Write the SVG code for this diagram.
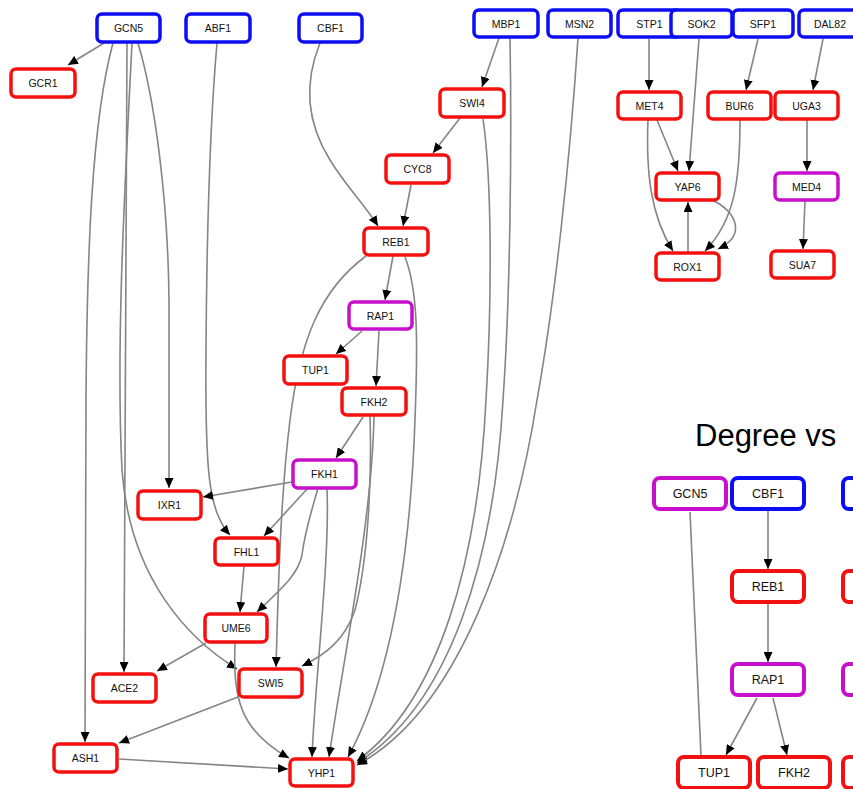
<svg xmlns="http://www.w3.org/2000/svg" width="853" height="789" viewBox="0 0 853 789">
  <style>
    .edge { fill: none; stroke: #858585; stroke-width: 1.6; }
    .arr { marker-end: url(#arrow); }
    .node rect { fill: #ffffff; stroke-width: 3.5; }
    .big rect { stroke-width: 4; }
    .tf rect { stroke: #0c0cf5; }
    .tg rect { stroke: #f51010; }
    .both rect { stroke: #c810cc; }
    .node text { font-family: "Liberation Sans", Arial, sans-serif; font-size: 10.5px; fill: #111111; text-anchor: middle; }
    .big text { font-size: 12.5px; }
    .title { font-family: "Liberation Sans", Arial, sans-serif; font-size: 31px; fill: #000000; }
  </style>
  <defs>
    <marker id="arrow" markerUnits="userSpaceOnUse" markerWidth="11" markerHeight="9" refX="10" refY="4.5" orient="auto">
      <path d="M0,0 L10,4.5 L0,9 z" fill="#000000"/>
    </marker>
  </defs>

  <!-- connectors -->
  <g id="edges">
    <path class="edge arr" d="M104,43 L68,65"/>
    <path class="edge arr" d="M113,43 C92,120 87,250 86,400 L85,742"/>
    <path class="edge arr" d="M127,43 C126,200 124,400 124,672"/>
    <path class="edge arr" d="M132,43 C124,200 116,350 122,470 C130,580 190,640 237,669"/>
    <path class="edge arr" d="M138,43 C155,100 168,200 169,300 L169,488"/>
    <path class="edge arr" d="M217,43 C212,100 207,200 206,350 C205,470 208,510 230,535"/>
    <path class="edge arr" d="M320,43 C305,80 305,120 330,160 C345,185 365,205 378,226"/>
    <path class="edge arr" d="M411,185 L403,226"/>
    <path class="edge arr" d="M460,118 L433,153"/>
    <path class="edge arr" d="M499,38 L482,87"/>
    <path class="edge arr" d="M393,256 L385,300"/>
    <path class="edge arr" d="M362,331 L336,354"/>
    <path class="edge arr" d="M379,331 L376,386"/>
    <path class="edge arr" d="M363,417 L336,458"/>
    <path class="edge arr" d="M366,256 C320,290 300,340 290,420 C280,500 278,600 276,667"/>
    <path class="edge arr" d="M370,416 C372,480 368,560 355,610 C345,640 325,655 302,666"/>
    <path class="edge arr" d="M374,416 C372,520 345,650 329,757"/>
    <path class="edge arr" d="M405,257 C418,290 418,340 415,420 C410,560 390,680 348,757"/>
    <path class="edge arr" d="M292,482 L203,497"/>
    <path class="edge arr" d="M308,488 L264,536"/>
    <path class="edge arr" d="M318,488 C312,510 305,530 302,555 C298,575 280,590 257,612"/>
    <path class="edge arr" d="M327,489 C330,560 315,680 312,757"/>
    <path class="edge arr" d="M244,566 L240,612"/>
    <path class="edge arr" d="M206,643 L157,671"/>
    <path class="edge arr" d="M235,643 C233,700 240,730 289,758"/>
    <path class="edge arr" d="M238,697 L119,743"/>
    <path class="edge arr" d="M119,759 L288,769"/>
    <path class="edge arr" d="M483,119 C492,180 492,300 486,400 C478,560 440,700 357,761"/>
    <path class="edge arr" d="M510,38 C512,150 510,300 503,400 C494,560 450,705 357,763"/>
    <path class="edge arr" d="M578,38 C570,160 555,300 537,400 C515,540 460,710 357,765"/>

    <path class="edge arr" d="M649,39 L649,90"/>
    <path class="edge arr" d="M699,39 L689,171"/>
    <path class="edge arr" d="M758,39 L746,90"/>
    <path class="edge arr" d="M823,39 L813,90"/>
    <path class="edge arr" d="M657,120 L678,171"/>
    <path class="edge arr" d="M648,120 C646,170 650,215 673,251"/>
    <path class="edge arr" d="M740,120 C740,180 735,220 705,251"/>
    <path class="edge arr" d="M712,200 C735,210 748,235 718,249"/>
    <path class="edge arr" d="M688,252 L688,202"/>
    <path class="edge arr" d="M807,120 L807,171"/>
    <path class="edge arr" d="M805,201 L803,249"/>

    <path class="edge arr" d="M768,511 L768,569"/>
    <path class="edge arr" d="M768,604 L768,662"/>
    <path class="edge arr" d="M757,698 L726,755"/>
    <path class="edge arr" d="M773,698 L787,755"/>
    <path class="edge" d="M690,512 L701,756"/>
  </g>

  <!-- left graph -->
  <g id="n-GCN5" class="node tf"><rect x="97" y="14" width="63" height="28" rx="5"/><text x="128.5" y="32">GCN5</text></g>
  <g id="n-ABF1" class="node tf"><rect x="186" y="14" width="64" height="28" rx="5"/><text x="218" y="32">ABF1</text></g>
  <g id="n-CBF1" class="node tf"><rect x="299" y="14" width="63" height="28" rx="5"/><text x="330.5" y="32">CBF1</text></g>
  <g id="n-MBP1" class="node tf"><rect x="474" y="10" width="64" height="27" rx="5"/><text x="506" y="27.5">MBP1</text></g>
  <g id="n-MSN2" class="node tf"><rect x="548" y="10" width="63" height="27" rx="5"/><text x="579.5" y="27.5">MSN2</text></g>
  <g id="n-STP1" class="node tf"><rect x="618" y="10" width="63" height="27" rx="5"/><text x="649.5" y="27.5">STP1</text></g>
  <g id="n-SOK2" class="node tf"><rect x="671" y="10" width="61" height="27" rx="5"/><text x="701.5" y="27.5">SOK2</text></g>
  <g id="n-SFP1" class="node tf"><rect x="733" y="10" width="60" height="27" rx="5"/><text x="763" y="27.5">SFP1</text></g>
  <g id="n-DAL82" class="node tf"><rect x="799" y="10" width="62" height="27" rx="5"/><text x="830" y="27.5">DAL82</text></g>

  <g id="n-GCR1" class="node tg"><rect x="11" y="69" width="64" height="28" rx="5"/><text x="43" y="87">GCR1</text></g>
  <g id="n-SWI4" class="node tg"><rect x="440" y="89" width="64" height="28" rx="5"/><text x="472" y="107">SWI4</text></g>
  <g id="n-MET4" class="node tg"><rect x="618" y="92" width="63" height="27" rx="5"/><text x="649.5" y="109.5">MET4</text></g>
  <g id="n-BUR6" class="node tg"><rect x="708" y="92" width="63" height="27" rx="5"/><text x="739.5" y="109.5">BUR6</text></g>
  <g id="n-UGA3" class="node tg"><rect x="775" y="92" width="63" height="27" rx="5"/><text x="806.5" y="109.5">UGA3</text></g>
  <g id="n-CYC8" class="node tg"><rect x="386" y="155" width="63" height="28" rx="5"/><text x="417.5" y="173">CYC8</text></g>
  <g id="n-YAP6" class="node tg"><rect x="656" y="173" width="63" height="27" rx="5"/><text x="687.5" y="190.5">YAP6</text></g>
  <g id="n-MED4" class="node both"><rect x="775" y="173" width="63" height="27" rx="5"/><text x="806.5" y="190.5">MED4</text></g>
  <g id="n-ROX1" class="node tg"><rect x="656" y="253" width="63" height="27" rx="5"/><text x="687.5" y="270.5">ROX1</text></g>
  <g id="n-SUA7" class="node tg"><rect x="771" y="251" width="63" height="27" rx="5"/><text x="802.5" y="268.5">SUA7</text></g>
  <g id="n-REB1" class="node tg"><rect x="364" y="228" width="64" height="27" rx="5"/><text x="396" y="245.5">REB1</text></g>
  <g id="n-RAP1" class="node both"><rect x="349" y="302" width="63" height="27" rx="5"/><text x="380.5" y="319.5">RAP1</text></g>
  <g id="n-TUP1" class="node tg"><rect x="284" y="356" width="63" height="28" rx="5"/><text x="315.5" y="374">TUP1</text></g>
  <g id="n-FKH2" class="node tg"><rect x="342" y="388" width="64" height="27" rx="5"/><text x="374" y="405.5">FKH2</text></g>
  <g id="n-FKH1" class="node both"><rect x="293" y="460" width="63" height="28" rx="5"/><text x="324.5" y="478">FKH1</text></g>
  <g id="n-IXR1" class="node tg"><rect x="138" y="491" width="63" height="28" rx="5"/><text x="169.5" y="509">IXR1</text></g>
  <g id="n-FHL1" class="node tg"><rect x="215" y="538" width="63" height="27" rx="5"/><text x="246.5" y="555.5">FHL1</text></g>
  <g id="n-UME6" class="node tg"><rect x="205" y="614" width="62" height="28" rx="5"/><text x="236" y="632">UME6</text></g>
  <g id="n-ACE2" class="node tg"><rect x="93" y="674" width="63" height="28" rx="5"/><text x="124.5" y="692">ACE2</text></g>
  <g id="n-SWI5" class="node tg"><rect x="239" y="669" width="63" height="28" rx="5"/><text x="270.5" y="687">SWI5</text></g>
  <g id="n-ASH1" class="node tg"><rect x="54" y="744" width="63" height="28" rx="5"/><text x="85.5" y="762">ASH1</text></g>
  <g id="n-YHP1" class="node tg"><rect x="290" y="759" width="63" height="27" rx="5"/><text x="321.5" y="776.5">YHP1</text></g>

  <!-- degree panel -->
  <text class="title" x="695" y="446">Degree vs</text>
  <g id="d-GCN5" class="node big both"><rect x="654" y="478" width="72" height="31" rx="6"/><text x="690" y="498">GCN5</text></g>
  <g id="d-CBF1" class="node big tf"><rect x="732" y="478" width="72" height="31" rx="6"/><text x="768" y="498">CBF1</text></g>
  <g id="d-tf3" class="node big tf"><rect x="843" y="478" width="72" height="31" rx="6"/></g>
  <g id="d-REB1" class="node big tg"><rect x="732" y="571" width="72" height="31" rx="6"/><text x="768" y="591">REB1</text></g>
  <g id="d-tg3" class="node big tg"><rect x="843" y="571" width="72" height="31" rx="6"/></g>
  <g id="d-RAP1" class="node big both"><rect x="732" y="664" width="72" height="31" rx="6"/><text x="768" y="684">RAP1</text></g>
  <g id="d-both3" class="node big both"><rect x="843" y="664" width="72" height="31" rx="6"/></g>
  <g id="d-TUP1" class="node big tg"><rect x="678" y="757" width="72" height="31" rx="6"/><text x="714" y="777">TUP1</text></g>
  <g id="d-FKH2" class="node big tg"><rect x="758" y="757" width="72" height="31" rx="6"/><text x="794" y="777">FKH2</text></g>
  <g id="d-tg4" class="node big tg"><rect x="843" y="757" width="72" height="31" rx="6"/></g>
</svg>
